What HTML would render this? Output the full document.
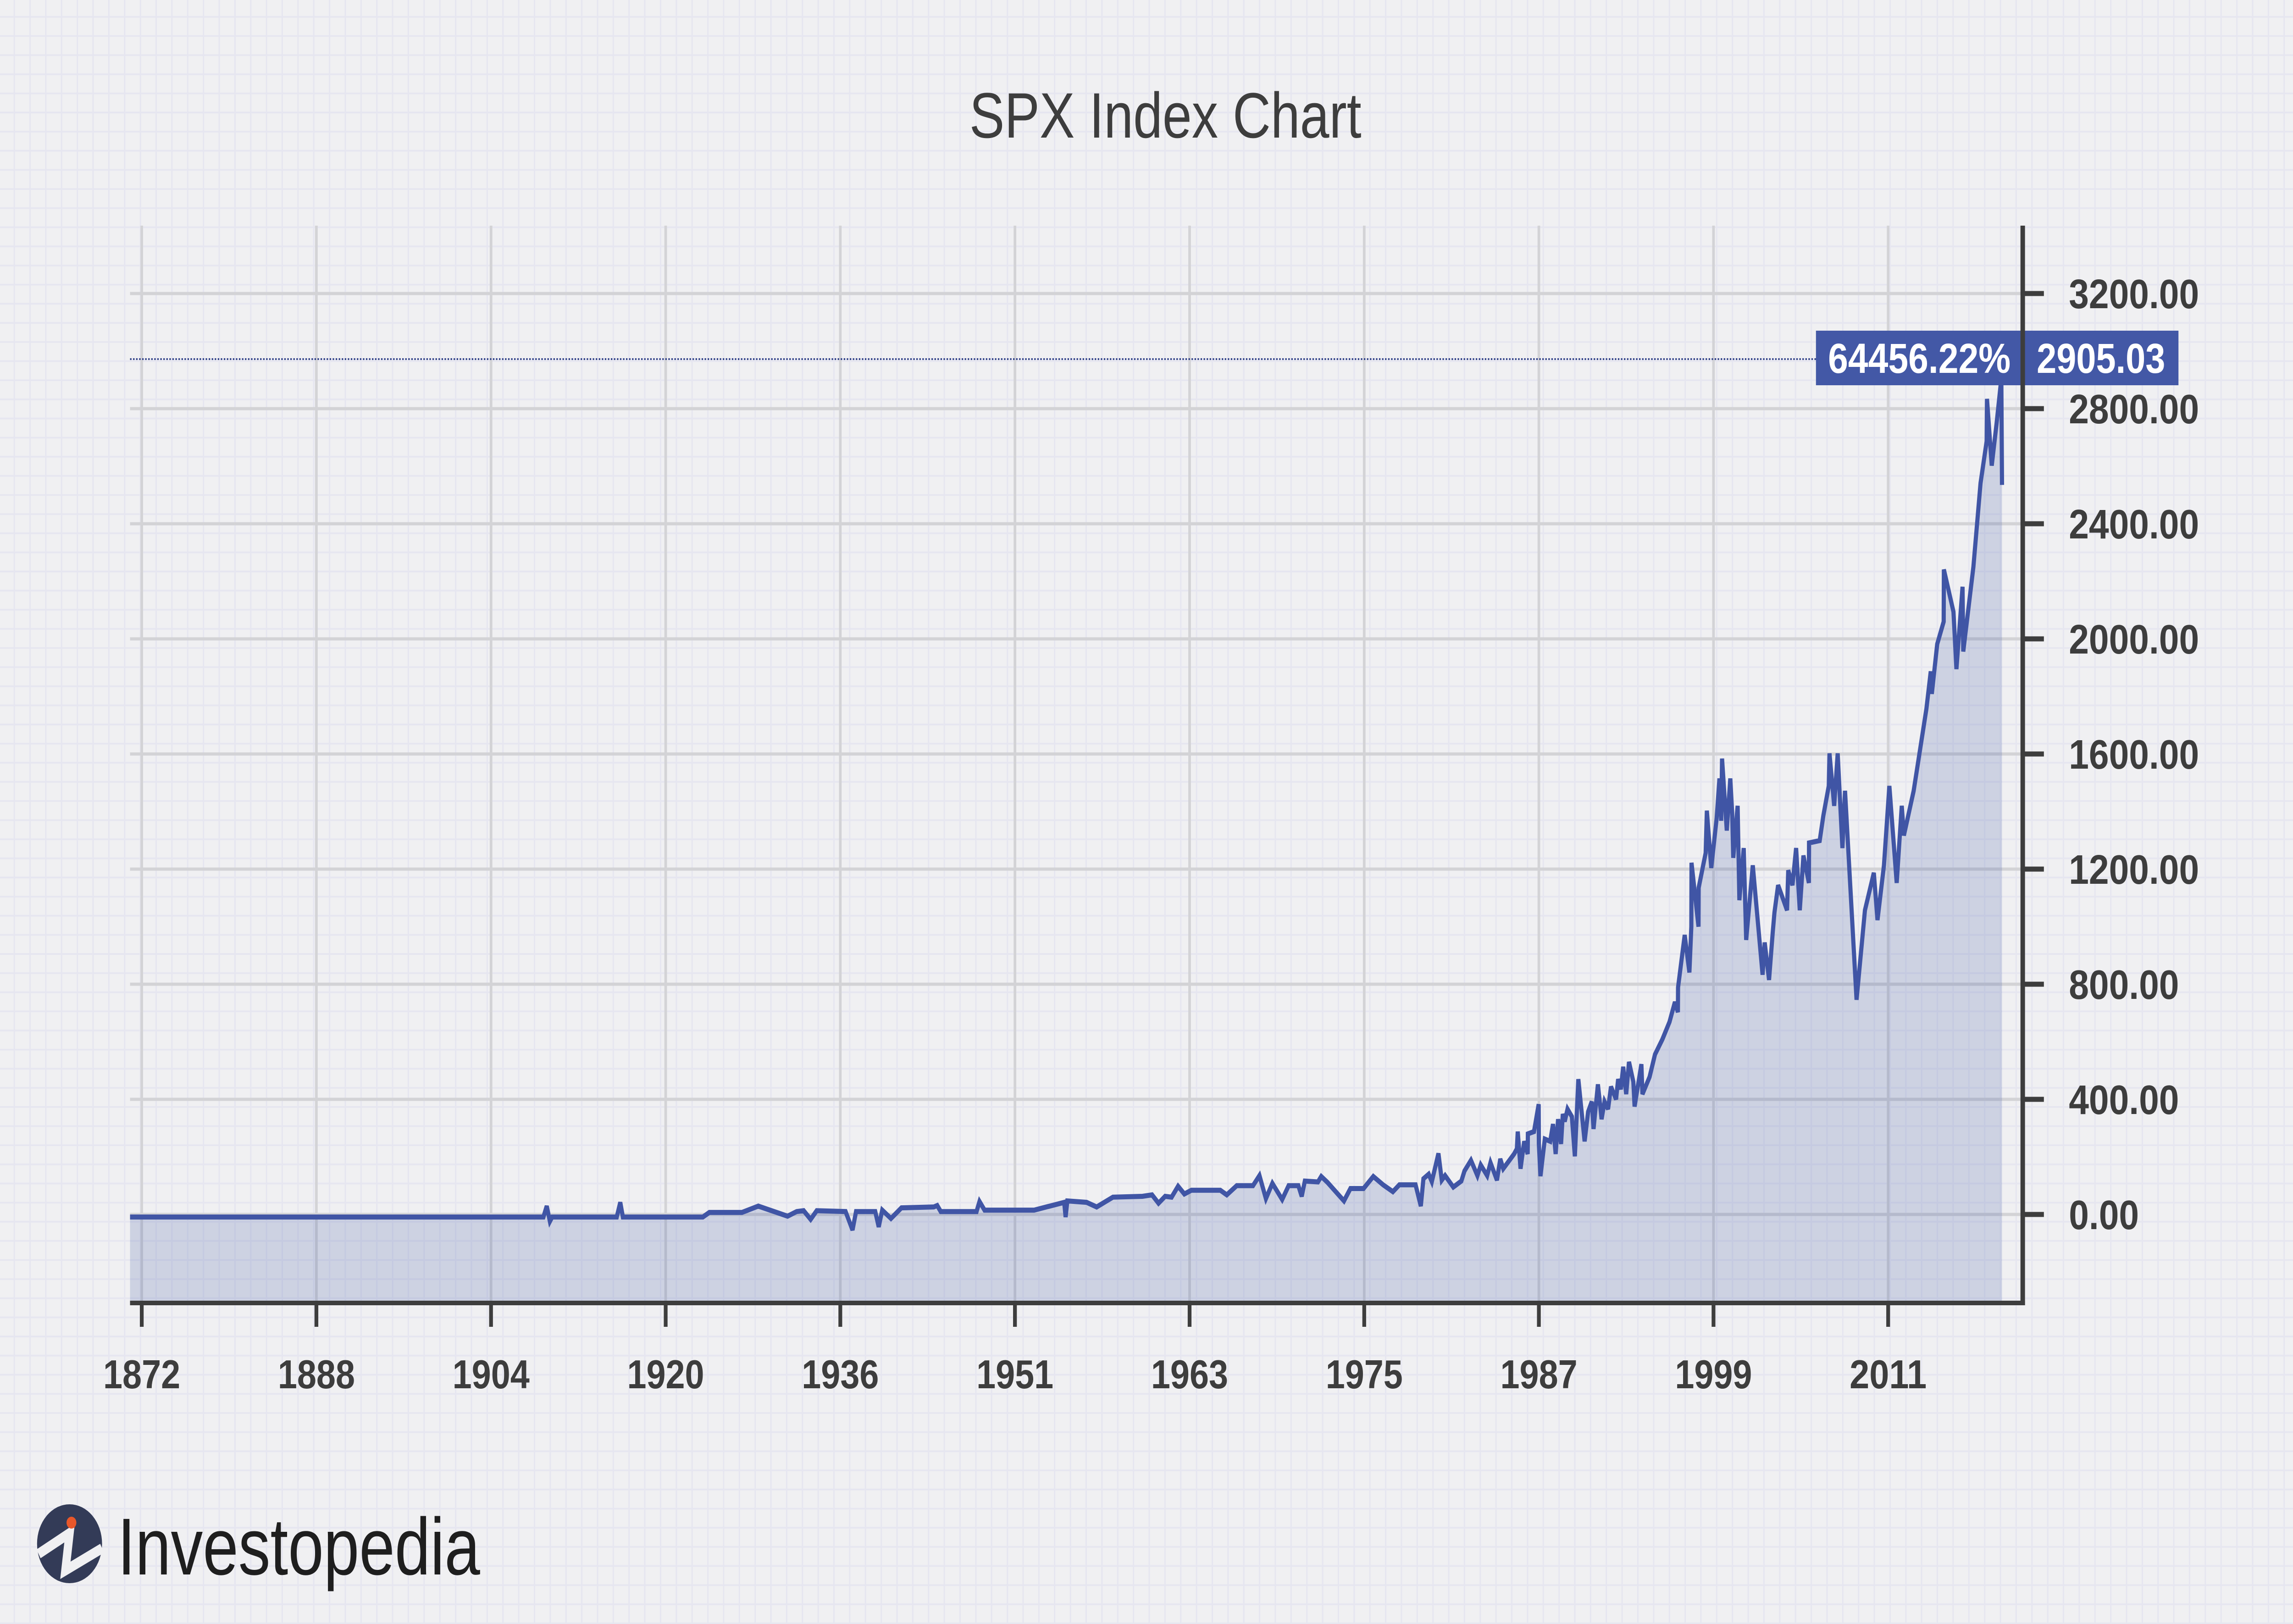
<!DOCTYPE html>
<html><head><meta charset="utf-8"><style>
html,body{margin:0;padding:0;background:#f0f0f2;overflow:hidden;width:100%;height:100%;}
svg{display:block;width:100vw;height:100vh;}
text{font-family:"Liberation Sans",sans-serif;}
</style></head><body>
<svg id="chart" viewBox="0 0 6066 3541" preserveAspectRatio="none" xmlns="http://www.w3.org/2000/svg">
<defs>
<pattern id="paper" x="-2" y="-3" width="41.7" height="41.7" patternUnits="userSpaceOnUse">
<rect width="41.7" height="41.7" fill="#f0f0f2"/>
<rect x="38" y="0" width="5" height="41.7" fill="#e6e6f0"/>
<rect x="0" y="38" width="41.7" height="5" fill="#e6e6f0"/>
</pattern>
</defs>
<rect x="0" y="0" width="6066" height="3541" fill="url(#paper)"/>
<text x="3083" y="300" text-anchor="middle" font-size="140" fill="#3d3d3d" textLength="1037" lengthAdjust="spacingAndGlyphs">SPX Index Chart</text>
<g id="grid"></g>
<g id="series"></g>
<g id="axes"></g>
<g>
<circle cx="184" cy="3366" r="86" fill="#333b57"/>
<polyline points="102,3388 184,3343 173,3424 270,3376" fill="none" stroke="#f0f0f2" stroke-width="22" stroke-linejoin="miter"/>
<circle cx="189" cy="3320" r="13" fill="#e8572a"/>
<text x="311" y="3433" font-size="176" fill="#1e1e1e" textLength="959" lengthAdjust="spacingAndGlyphs">Investopedia</text>
</g>
</svg>
<script>
const tickLabels = ["1872","1888","1904","1920","1936","1951","1963","1975","1987","1999","2011"];
const yTicks = [0,400,800,1200,1600,2000,2400,2800,3200];
const xIndex = [-0.067,2.30,2.319,2.337,2.35,2.72,2.74,2.755,3.213,3.25,3.437,3.53,3.698,3.75,3.79,3.83,3.865,4.03,4.07,4.09,4.2,4.22,4.24,4.29,4.35,4.535,4.555,4.575,4.78,4.797,4.826,5.11,5.282,5.29,5.30,5.41,5.468,5.561,5.73,5.785,5.822,5.86,5.897,5.934,5.97,6.01,6.176,6.213,6.27,6.363,6.40,6.437,6.474,6.53,6.567,6.623,6.642,6.66,6.735,6.754,6.79,6.884,6.921,6.996,7.052,7.108,7.164,7.201,7.294,7.324,7.339,7.369,7.387,7.425,7.444,7.463,7.51,7.556,7.574,7.611,7.648,7.667,7.704,7.723,7.76,7.779,7.796,7.858,7.874,7.879,7.895,7.916,7.936,7.937,7.972,7.999,8.000,8.009,8.034,8.065,8.081,8.096,8.110,8.127,8.137,8.148,8.164,8.189,8.206,8.226,8.262,8.282,8.303,8.313,8.338,8.359,8.376,8.396,8.413,8.442,8.454,8.469,8.483,8.500,8.516,8.541,8.548,8.587,8.593,8.634,8.665,8.707,8.748,8.779,8.796,8.797,8.835,8.862,8.873,8.874,8.914,8.915,8.955,8.962,8.987,9.018,9.034,9.044,9.049,9.076,9.096,9.107,9.113,9.138,9.148,9.173,9.187,9.225,9.281,9.293,9.318,9.339,9.349,9.370,9.421,9.428,9.452,9.473,9.494,9.515,9.546,9.547,9.608,9.629,9.660,9.664,9.691,9.711,9.738,9.753,9.819,9.867,9.918,9.939,9.976,10.007,10.049,10.078,10.090,10.146,10.219,10.244,10.250,10.281,10.318,10.319,10.374,10.391,10.426,10.430,10.488,10.529,10.564,10.566,10.593,10.621,10.648,10.652];
const values = [-9,-9,29,-24,-9,-9,42,-9,-9,7,7,29,-6,10,13,-17,13,10,-54,10,10,-43,15,-14,23,26,31,10,10,45,15,15,42,-9,47,42,26,60,63,68,39,63,60,98,71,84,84,68,100,100,135,55,108,52,100,100,63,116,113,132,111,47,90,90,132,103,79,103,103,29,124,140,114,212,119,135,95,116,151,188,135,172,135,180,119,193,159,210,228,288,159,254,210,280,288,383,245,133,262,254,314,210,331,245,349,323,366,340,202,470,254,357,392,297,452,331,392,366,444,400,470,435,513,418,530,461,375,522,418,478,556,608,669,738,703,789,971,841,1000,1222,1000,1135,1256,1403,1204,1377,1515,1368,1584,1334,1515,1394,1239,1420,1092,1273,954,1213,833,945,815,979,1049,1144,1057,1196,1144,1273,1057,1247,1152,1291,1299,1386,1489,1602,1420,1602,1273,1472,746,1057,1187,1023,1213,1489,1152,1420,1317,1472,1757,1887,1809,1982,2060,2241,2094,1895,2181,1956,2250,2541,2687,2834,2602,2749,2905,2535];
const lastValue = "2905.03";
const lastChange = "64456.22%";

const NS = "http://www.w3.org/2000/svg";
const X0 = 375, XSTEP = 462, PLOT_L = 344, AXIS_X = 5351, PLOT_TOP = 492, AXIS_Y = 2841;
const Y0 = 2648, YSCALE = 0.6275;
function xScale(t){ return X0 + t * XSTEP; }
function yScale(v){ return Y0 - v * YSCALE; }
function mk(tag, attrs, parent){
  const e = document.createElementNS(NS, tag);
  for (const k in attrs) e.setAttribute(k, attrs[k]);
  parent.appendChild(e);
  return e;
}
const grid = document.getElementById('grid');
const series = document.getElementById('series');
const axes = document.getElementById('axes');

yTicks.forEach(v => {
  const l = mk('line', {x1: PLOT_L, x2: AXIS_X, y1: yScale(v), y2: yScale(v), stroke: '#d3d3d6', 'stroke-width': 7}, grid);
  
  
});
tickLabels.forEach((lab, i) => {
  const l = mk('line', {x1: xScale(i), x2: xScale(i), y1: PLOT_TOP, y2: AXIS_Y, stroke: '#d3d3d6', 'stroke-width': 7}, grid);
  
  
});

let pts = xIndex.map((t, i) => xScale(t).toFixed(1) + ',' + yScale(values[i]).toFixed(1));
const area = mk('polygon', {points: xScale(xIndex[0]).toFixed(1) + ',' + AXIS_Y + ' ' + pts.join(' ') + ' ' + xScale(xIndex[xIndex.length-1]).toFixed(1) + ',' + AXIS_Y, fill: '#4358a6', 'fill-opacity': 0.2}, series);


const line = mk('polyline', {points: pts.join(' '), fill: 'none', stroke: '#4055a5', 'stroke-width': 11, 'stroke-linejoin': 'miter', 'stroke-miterlimit': 3}, series);



const refY = 783;
const dl = mk('line', {x1: PLOT_L, x2: 4804, y1: refY, y2: refY, stroke: '#34448a', 'stroke-width': 4, 'stroke-dasharray': '4 4'}, axes);


const box = mk('rect', {x: 4804, y: 721, width: 959, height: 119, fill: '#4358a6'}, axes);


const t1 = mk('text', {x: 4836, y: 813, 'font-size': 92, 'font-weight': 'bold', fill: '#ffffff', textLength: 483, lengthAdjust: 'spacingAndGlyphs'}, axes);
t1.textContent = lastChange;


const t2 = mk('text', {x: 5388, y: 813, 'font-size': 92, 'font-weight': 'bold', fill: '#ffffff', textLength: 340, lengthAdjust: 'spacingAndGlyphs'}, axes);
t2.textContent = lastValue;



const ya = mk('line', {x1: AXIS_X, x2: AXIS_X, y1: PLOT_TOP, y2: AXIS_Y + 5, stroke: '#3d3d3d', 'stroke-width': 12}, axes);


const xa = mk('line', {x1: PLOT_L, x2: AXIS_X + 6, y1: AXIS_Y, y2: AXIS_Y, stroke: '#3d3d3d', 'stroke-width': 10}, axes);


yTicks.forEach(v => {
  const tk = mk('line', {x1: AXIS_X, x2: 5407, y1: yScale(v), y2: yScale(v), stroke: '#3d3d3d', 'stroke-width': 11}, axes);
  
  
  const s = v.toFixed(2);
  const lb = mk('text', {x: 5473, y: yScale(v) + 32, 'font-size': 90, 'font-weight': 'bold', fill: '#3d3d3d', textLength: (s.length - 0.5) * 53, lengthAdjust: 'spacingAndGlyphs'}, axes);
  lb.textContent = s;
  
  
});
tickLabels.forEach((lab, i) => {
  const tk = mk('line', {x1: xScale(i), x2: xScale(i), y1: AXIS_Y, y2: 2893, stroke: '#3d3d3d', 'stroke-width': 10}, axes);
  
  
  const lb = mk('text', {x: xScale(i), y: 3027, 'font-size': 88, 'font-weight': 'bold', fill: '#3d3d3d', 'text-anchor': 'middle', textLength: 204, lengthAdjust: 'spacingAndGlyphs'}, axes);
  lb.textContent = lab;
  
  
});
</script>
</body></html>
